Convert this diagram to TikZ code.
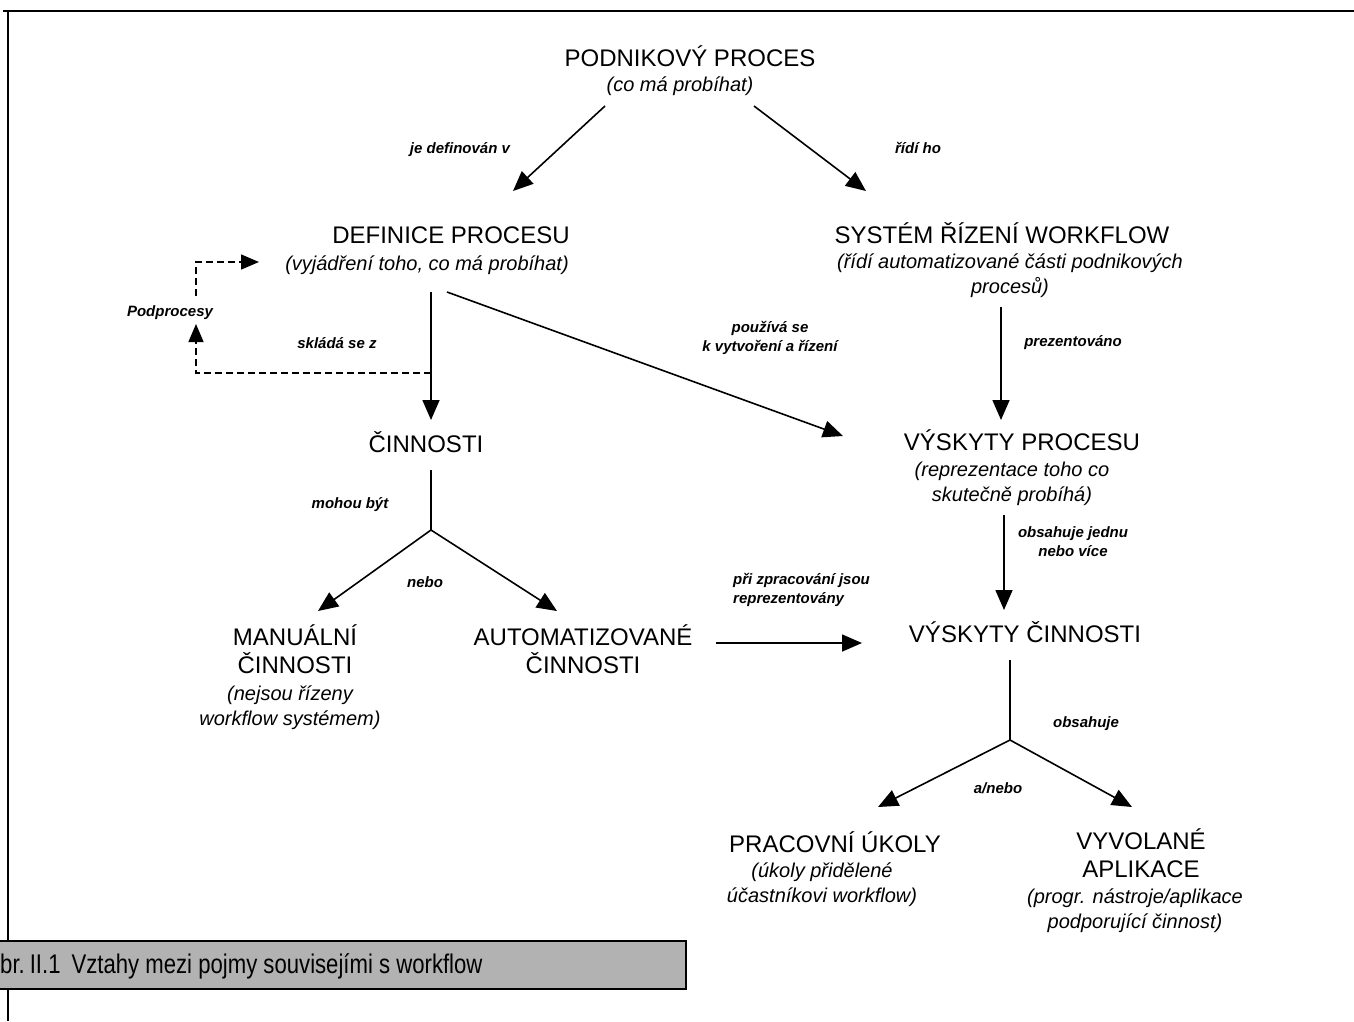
\documentclass[tikz,border=0pt]{standalone}
\usepackage{fontspec}
\setmainfont{Liberation Sans}
\newfontfamily\capfont[FakeStretch=0.82]{Liberation Sans}
\usetikzlibrary{arrows.meta}
\tikzset{
  x=1pt, y=-1pt,
  ttl/.style={inner sep=0pt, anchor=base, align=center, font=\fontsize{24}{28}\selectfont},
  sub/.style={inner sep=0pt, anchor=base, align=center, font=\fontsize{20}{25}\itshape},
  lbl/.style={inner sep=0pt, anchor=base, align=center, font=\fontsize{15}{19}\bfseries\itshape},
  conn/.style={line width=1.6pt},
  arr/.style={conn, -{Triangle[length=20pt,width=17pt]}},
  dsh/.style={line width=1.4pt, dash pattern=on 7pt off 4pt}
}
\begin{document}
\begin{tikzpicture}
\useasboundingbox (0,0) rectangle (1354,1021);
% frame
\draw[line width=2.4pt] (3,11) -- (1354,11);
\draw[line width=1.4pt] (8,11) -- (8,1021);

% concepts (anchor base = baseline of last line)
\node[ttl] (pp) at (690,66) {PODNIKOVÝ PROCES};
\node[sub] (ppsub) at (680,91) {(co má probíhat)};

\node[ttl] (def) at (451,243) {DEFINICE PROCESU};
\node[sub] (defsub) at (427,270) {(vyjádření toho, co má probíhat)};

\node[ttl] (sys) at (1002,243) {SYSTÉM ŘÍZENÍ WORKFLOW};
\node[sub] (syssub) at (1010,293) {(řídí automatizované části podnikových\\procesů)};

\node[ttl] (cin) at (426,452) {ČINNOSTI};

\node[ttl] (vp) at (1022,450) {VÝSKYTY PROCESU};
\node[sub] (vpsub) at (1012,501) {(reprezentace toho co\\skutečně probíhá)};

\node[ttl] (man) at (295,673) {MANUÁLNÍ\\ČINNOSTI};
\node[sub] (mansub) at (290,725) {(nejsou řízeny\\workflow systémem)};

\node[ttl] (aut) at (583,673) {AUTOMATIZOVANÉ\\ČINNOSTI};

\node[ttl] (vc) at (1025,642) {VÝSKYTY ČINNOSTI};

\node[ttl] (pu) at (835,852) {PRACOVNÍ ÚKOLY};
\node[sub] (pusub) at (822,902) {(úkoly přidělené\\účastníkovi workflow)};

\node[ttl] (va) at (1141,877) {VYVOLANÉ\\APLIKACE};
\node[sub] (vasub) at (1135,928) {(progr. nástroje/aplikace\\podporující činnost)};

% labels
\node[lbl] (l1) at (460,153) {je definován v};
\node[lbl] (l2) at (918,153) {řídí ho};
\node[lbl] (l3) at (170,316) {Podprocesy};
\node[lbl] (l4) at (337,348) {skládá se z};
\node[lbl] (l5) at (770,351) {používá se\\k vytvoření a řízení};
\node[lbl] (l6) at (1073,346) {prezentováno};
\node[lbl] (l7) at (350,508) {mohou být};
\node[lbl] (l8) at (425,587) {nebo};
\node[lbl, align=left, anchor=base west] (l9) at (733,603) {při zpracování jsou\\reprezentovány};
\node[lbl] (l10) at (1073,556) {obsahuje jednu\\nebo více};
\node[lbl] (l11) at (1086,727) {obsahuje};
\node[lbl] (l12) at (998,793) {a/nebo};

% connector points
\coordinate (ppA) at (605,106);
\coordinate (ppB) at (754,106);
\coordinate (defT) at (513,191);
\coordinate (sysT) at (866,191);
\coordinate (defB) at (431,292);
\coordinate (defR) at (447,292);
\coordinate (cinT) at (431,420);
\coordinate (vpT) at (843,436);
\coordinate (sysB) at (1001,307);
\coordinate (vpT2) at (1001,420);
\coordinate (dj) at (431,373);
\coordinate (dc) at (196,373);
\coordinate (dup) at (196,324);
\coordinate (ds) at (196,296);
\coordinate (dk) at (196,262);
\coordinate (defL) at (259,262);
\coordinate (cinB) at (431,470);
\coordinate (cinJ) at (431,530);
\coordinate (manT) at (318,611);
\coordinate (autT) at (557,611);
\coordinate (autR) at (716,643);
\coordinate (vcL) at (862,643);
\coordinate (vpB) at (1004,515);
\coordinate (vcT) at (1004,610);
\coordinate (vcB) at (1010,660);
\coordinate (vcJ) at (1010,740);
\coordinate (puT) at (878,807);
\coordinate (vaT) at (1132,807);

% connectors
\draw[arr] (ppA) -- (defT);
\draw[arr] (ppB) -- (sysT);
\draw[arr] (defB) -- (cinT);
\draw[arr] (defR) -- (vpT);
\draw[arr] (sysB) -- (vpT2);
\draw[dsh] (dj) -- (dc) -- ([yshift=-14pt]dup);
\draw[-{Triangle[length=18pt,width=15pt]}, line width=1.4pt] ([yshift=-14pt]dup) -- (dup);
\draw[dsh] (ds) -- (dk) -- ([xshift=-16pt]defL);
\draw[-{Triangle[length=18pt,width=15pt]}, line width=1.4pt] ([xshift=-16pt]defL) -- (defL);
\draw[conn] (cinB) -- (cinJ);
\draw[arr] (cinJ) -- (manT);
\draw[arr] (cinJ) -- (autT);
\draw[arr] (autR) -- (vcL);
\draw[arr] (vpB) -- (vcT);
\draw[conn] (vcB) -- (vcJ);
\draw[arr] (vcJ) -- (puT);
\draw[arr] (vcJ) -- (vaT);

% caption
\node[draw, line width=1.6pt, fill=black!30, minimum width=687pt, minimum height=48pt, inner sep=0pt, anchor=north west] (capbox) at (-2,940) {};
\node[inner sep=0pt, anchor=base west, font=\fontsize{27}{30}\capfont] (cap) at (0,973) {br.\hspace{5pt}II.1\hspace{11pt}Vztahy mezi pojmy souvisejími s workflow};
\end{tikzpicture}
\end{document}
